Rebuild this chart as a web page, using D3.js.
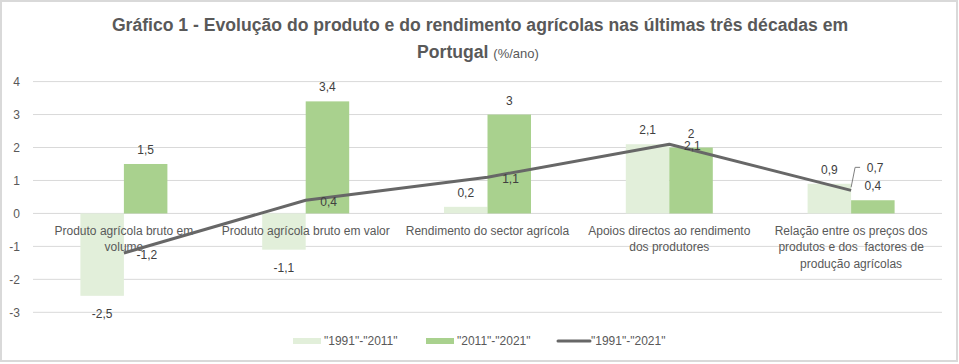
<!DOCTYPE html>
<html><head><meta charset="utf-8">
<script src="https://cdn.jsdelivr.net/npm/d3@7"></script>
<style>body{margin:0;background:#fff}svg{display:block}text{white-space:pre}</style>
</head><body>
<script>
const categories = [
  ["Produto agrícola bruto em", "volume"],
  ["Produto agrícola bruto em valor"],
  ["Rendimento do sector agrícola"],
  ["Apoios directos ao rendimento", "dos produtores"],
  ["Relação entre os preços dos", "produtos e dos  factores de", "produção agrícolas"]
];
const series1991_2011 = [-2.5, -1.1, 0.2, 2.1, 0.9];
const series2011_2021 = [1.5, 3.4, 3, 2, 0.4];
const series1991_2021 = [-1.2, 0.4, 1.1, 2.1, 0.7];
const seriesNames = ['"1991"-"2011"', '"2011"-"2021"', '"1991"-"2021"'];
const yTicks = [-3, -2, -1, 0, 1, 2, 3, 4];

const W = 959, H = 364;
const font = "'Liberation Sans', Arial, sans-serif";
const svg = d3.select("body").append("svg").attr("width", W).attr("height", H);
svg.append("rect").attr("x", 1).attr("y", 1).attr("width", 956).attr("height", 360)
  .attr("fill", "#fff").attr("stroke", "#d9d9d9").attr("stroke-width", 2);

// title
const t = svg.append("text").attr("text-anchor", "middle").attr("fill", "#595959")
  .attr("font-family", font);
t.append("tspan").attr("x", 480).attr("y", 31).attr("font-size", 17.6).attr("font-weight", "bold")
  .text("Gráfico 1 - Evolução do produto e do rendimento agrícolas nas últimas três décadas em");
const t2 = svg.append("text").attr("text-anchor", "middle").attr("fill", "#595959")
  .attr("font-family", font).attr("x", 478).attr("y", 58);
t2.append("tspan").attr("font-size", 17.6).attr("font-weight", "bold").text("Portugal ");
t2.append("tspan").attr("font-size", 13).text("(%/ano)");

const x0 = 33, x1 = 942;
const y = d3.scaleLinear().domain([-3, 4]).range([312.3, 81.6]);
const x = d3.scaleBand().domain(d3.range(categories.length)).range([x0, x1]);
const bw = 43.5;
const fmt = d => String(d).replace(".", ",");

// grid
svg.append("g").selectAll("line").data(yTicks).join("line")
  .attr("x1", x0).attr("x2", x1).attr("y1", d => y(d)).attr("y2", d => y(d))
  .attr("stroke", "#d9d9d9").attr("stroke-width", 1);

// y axis labels
const yAxis = d3.axisLeft(y).tickValues(yTicks).tickSize(0).tickPadding(0).tickFormat(fmt);
const ya = svg.append("g").attr("transform", "translate(20,0)").call(yAxis);
ya.select(".domain").remove();
ya.selectAll("text").attr("font-family", font).attr("font-size", 12).attr("fill", "#595959");

// bars
const cx = i => x(i) + x.bandwidth() / 2;
svg.append("g").selectAll("rect").data(series1991_2011).join("rect")
  .attr("x", (d, i) => cx(i) - bw).attr("width", bw)
  .attr("y", d => y(Math.max(0, d))).attr("height", d => Math.abs(y(d) - y(0)))
  .attr("fill", "#e2efda");
svg.append("g").selectAll("rect").data(series2011_2021).join("rect")
  .attr("x", (d, i) => cx(i)).attr("width", bw)
  .attr("y", d => y(Math.max(0, d))).attr("height", d => Math.abs(y(d) - y(0)))
  .attr("fill", "#a9d18e");

// category labels
const cl = svg.append("g").attr("font-family", font).attr("font-size", 12).attr("fill", "#595959")
  .attr("text-anchor", "middle");
categories.forEach((lines, i) => {
  lines.forEach((ln, j) => {
    cl.append("text").attr("x", cx(i)).attr("y", 235 + j * 16.3).text(ln);
  });
});

// line
const line = d3.line().x((d, i) => cx(i)).y(d => y(d));
svg.append("path").datum(series1991_2021).attr("d", line)
  .attr("fill", "none").attr("stroke", "#676767").attr("stroke-width", 3).attr("stroke-linejoin", "round");

// data labels
const lab = svg.append("g").attr("font-family", font).attr("font-size", 12).attr("fill", "#404040")
  .attr("text-anchor", "middle");
series1991_2011.forEach((d, i) => {
  lab.append("text").attr("x", cx(i) - bw / 2)
    .attr("y", d >= 0 ? y(d) - 10 : y(d) + 22).text(fmt(d));
});
series2011_2021.forEach((d, i) => {
  lab.append("text").attr("x", cx(i) + bw / 2)
    .attr("y", d >= 0 ? y(d) - 10 : y(d) + 22).text(fmt(d));
});
series1991_2021.forEach((d, i) => {
  if (i === 4) {
    lab.append("text").attr("x", cx(i) + 24).attr("y", y(d) - 18).text(fmt(d));
    svg.append("path").attr("d", `M${cx(i)},${y(d) - 3}L${cx(i) + 4},${y(d) - 23}L${cx(i) + 9},${y(d) - 23}`)
      .attr("fill", "none").attr("stroke", "#7f7f7f").attr("stroke-width", 1);
  } else {
    lab.append("text").attr("x", cx(i) + 23).attr("y", y(d) + 6).text(fmt(d));
  }
});

// legend
const lg = svg.append("g").attr("font-family", font).attr("font-size", 12).attr("fill", "#595959");
const items = [
  {x: 293, w: 28, type: "rect", c: "#e2efda", tx: 324},
  {x: 426, w: 28, type: "rect", c: "#a9d18e", tx: 457},
  {x: 558, w: 32, type: "line", c: "#676767", tx: 591}
];
items.forEach((it, k) => {
  if (it.type === "rect") lg.append("rect").attr("x", it.x).attr("y", 338).attr("width", it.w).attr("height", 6).attr("fill", it.c);
  else lg.append("line").attr("x1", it.x).attr("x2", it.x + it.w).attr("y1", 341).attr("y2", 341)
    .attr("stroke", it.c).attr("stroke-width", 3).attr("stroke-linecap", "round");
  lg.append("text").attr("x", it.tx).attr("y", 345).text(seriesNames[k]);
});
</script>
</body></html>
